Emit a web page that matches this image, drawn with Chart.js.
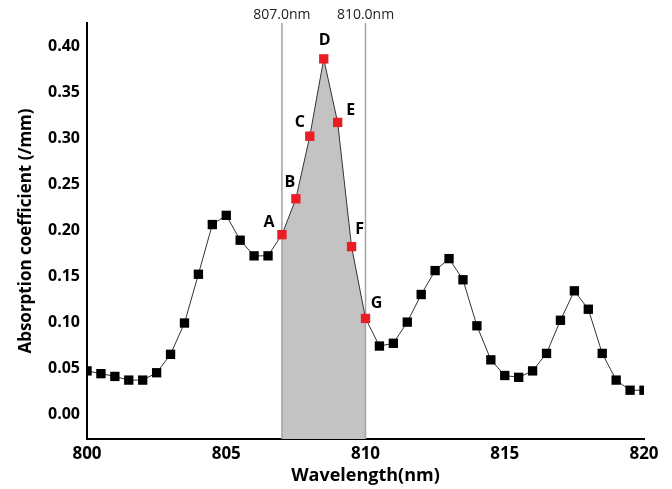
<!DOCTYPE html>
<html>
<head>
<meta charset="utf-8">
<script src="https://cdn.jsdelivr.net/npm/chart.js@4.4.1/dist/chart.umd.min.js"></script>
<style>
  html, body { margin: 0; padding: 0; background: #fff; }
  #wrap { width: 672px; height: 489px; }
</style>
</head>
<body>
<div id="wrap"><canvas id="absChart"></canvas></div>
<script>
// wavelength (nm) and absorption coefficient (/mm)
const wavelengths = [800, 800.5, 801, 801.5, 802, 802.5, 803, 803.5, 804, 804.5,
  805, 805.5, 806, 806.5, 807, 807.5, 808, 808.5, 809, 809.5,
  810, 810.5, 811, 811.5, 812, 812.5, 813, 813.5, 814, 814.5,
  815, 815.5, 816, 816.5, 817, 817.5, 818, 818.5, 819, 819.5, 820];
const absorption = [0.047, 0.044, 0.041, 0.037, 0.037, 0.045, 0.065, 0.099, 0.152, 0.206,
  0.216, 0.189, 0.172, 0.172, 0.195, 0.234, 0.302, 0.386, 0.317, 0.182,
  0.104, 0.074, 0.077, 0.100, 0.130, 0.156, 0.169, 0.146, 0.096, 0.059,
  0.042, 0.040, 0.047, 0.066, 0.102, 0.134, 0.114, 0.066, 0.037, 0.026, 0.026];

const bandEdges = [807.0, 810.0];          // shaded band limits
const pointLabels = ['A', 'B', 'C', 'D', 'E', 'F', 'G'];
const xTicks = [800, 805, 810, 815, 820];
const yTicks = [0.00, 0.05, 0.10, 0.15, 0.20, 0.25, 0.30, 0.35, 0.40];

const FONT = "'Open Sans', 'DejaVu Sans', sans-serif";
const RED = '#ec1c24';

const allPoints = wavelengths.map((w, i) => ({ x: w, y: absorption[i] }));
const inBand = w => w >= bandEdges[0] && w <= bandEdges[1];
const bandPoints = allPoints.filter(p => inBand(p.x));

// label offsets (px) for A..G relative to their markers
const labelOffsets = [[-13, -12], [-6, -16], [-10, -14], [1, -18], [13, -12], [8, -17], [11, -15]];

const bandPlugin = {
  id: 'bandLines',
  beforeDatasetDraw(chart, args) {
    if (args.index !== 0) return;
    const { ctx, chartArea, scales } = chart;
    ctx.save();
    ctx.strokeStyle = '#a3a3a3';
    ctx.lineWidth = 1.5;
    bandEdges.forEach(v => {
      const px = scales.x.getPixelForValue(v);
      ctx.beginPath();
      ctx.moveTo(px, chartArea.top);
      ctx.lineTo(px, chartArea.bottom);
      ctx.stroke();
    });
    ctx.restore();
  },
  afterDatasetsDraw(chart) {
    const { ctx, chartArea, scales } = chart;
    ctx.save();
    ctx.fillStyle = '#222';
    ctx.font = "14px " + FONT;
    ctx.textAlign = 'center';
    ctx.textBaseline = 'middle';
    bandEdges.forEach(v => {
      const px = scales.x.getPixelForValue(v);
      ctx.fillText(v.toFixed(1) + 'nm', px, chartArea.top - 8);
    });
    // A..G letters
    ctx.fillStyle = '#000';
    ctx.font = "bold 16px " + FONT;
    bandPoints.forEach((p, i) => {
      const px = scales.x.getPixelForValue(p.x);
      const py = scales.y.getPixelForValue(p.y);
      const off = labelOffsets[i] || [0, -16];
      ctx.fillText(pointLabels[i], px + off[0], py + off[1]);
    });
    ctx.restore();
  }
};

new Chart(document.getElementById('absChart'), {
  type: 'scatter',
  data: {
    datasets: [
      {
        data: allPoints,
        showLine: true,
        borderColor: '#333',
        borderWidth: 1,
        pointStyle: 'rect',
        pointRadius: 6.6,
        pointBorderWidth: 0,
        pointBackgroundColor: allPoints.map(p => inBand(p.x) ? RED : '#000'),
        clip: 0
      },
      {
        data: bandPoints,
        showLine: true,
        borderWidth: 0,
        pointRadius: 0,
        backgroundColor: '#c3c3c3',
        fill: 'start',
        clip: 0
      }
    ]
  },
  options: {
    responsive: true,
    maintainAspectRatio: false,
    animation: false,
    layout: { padding: { top: 23, right: 28, left: 0, bottom: 0 } },
    plugins: {
      legend: { display: false },
      tooltip: { enabled: false }
    },
    scales: {
      x: {
        type: 'linear',
        min: 800,
        max: 820,
        afterBuildTicks: s => { s.ticks = xTicks.map(v => ({ value: v })); },
        afterFit: s => { s.height = 50; },
        grid: { display: false, drawTicks: false },
        border: { display: true, color: '#000', width: 2 },
        ticks: {
          color: '#000',
          padding: 5,
          font: { family: FONT, size: 17, weight: 'bold' },
          callback: v => String(v)
        },
        title: {
          display: true,
          text: 'Wavelength(nm)',
          color: '#000',
          padding: { top: 0, bottom: 2 },
          font: { family: FONT, size: 18, weight: 'bold' }
        }
      },
      y: {
        min: -0.027,
        max: 0.425,
        afterBuildTicks: s => { s.ticks = yTicks.map(v => ({ value: v })); },
        afterFit: s => { s.width = 87; },
        grid: { display: false, drawTicks: false },
        border: { display: true, color: '#000', width: 2 },
        ticks: {
          color: '#000',
          padding: 7,
          font: { family: FONT, size: 16, weight: 'bold' },
          callback: v => v.toFixed(2)
        },
        title: {
          display: true,
          text: 'Absorption coefficient (/mm)',
          color: '#000',
          padding: { top: 16, bottom: 0 },
          font: { family: FONT, size: 17, weight: 'bold' }
        }
      }
    }
  },
  plugins: [bandPlugin]
});
</script>
</body>
</html>
